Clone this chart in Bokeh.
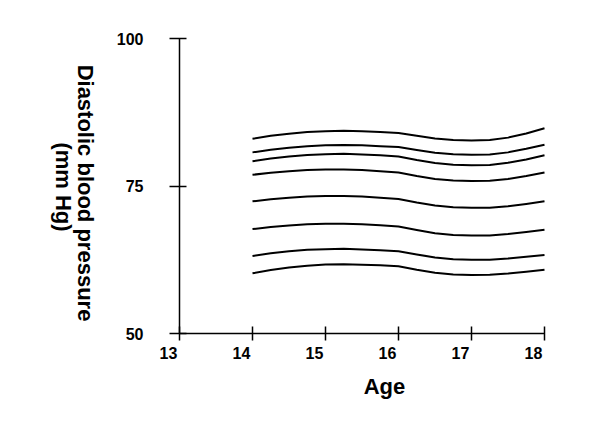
import math
from bokeh.plotting import figure
from bokeh.models import Range1d, FixedTicker, Label
from bokeh.embed import file_html
from bokeh.resources import INLINE

# Data
ages = [14, 14.25, 14.5, 14.75, 15, 15.25, 15.5, 15.75, 16,
        16.25, 16.5, 16.75, 17, 17.25, 17.5, 17.75, 18]
curve_1 = [83.0, 83.5, 83.85, 84.15, 84.3, 84.35, 84.3, 84.15, 84.0, 83.5, 83.05, 82.8, 82.7, 82.8, 83.2, 83.9, 84.8]
curve_2 = [80.7, 81.15, 81.5, 81.75, 81.9, 81.95, 81.9, 81.75, 81.6, 81.1, 80.65, 80.4, 80.3, 80.35, 80.7, 81.3, 82.0]
curve_3 = [79.2, 79.65, 80.0, 80.25, 80.4, 80.45, 80.35, 80.2, 80.0, 79.4, 78.9, 78.6, 78.5, 78.55, 78.95, 79.5, 80.2]
curve_4 = [76.9, 77.25, 77.5, 77.7, 77.8, 77.8, 77.7, 77.5, 77.3, 76.7, 76.2, 75.95, 75.85, 75.9, 76.2, 76.7, 77.3]
curve_5 = [72.4, 72.75, 73.0, 73.2, 73.3, 73.3, 73.2, 73.0, 72.8, 72.2, 71.7, 71.4, 71.3, 71.3, 71.55, 71.95, 72.4]
curve_6 = [67.7, 68.05, 68.3, 68.5, 68.6, 68.6, 68.5, 68.35, 68.15, 67.55, 67.0, 66.7, 66.6, 66.6, 66.85, 67.2, 67.6]
curve_7 = [63.15, 63.6, 63.95, 64.2, 64.3, 64.35, 64.25, 64.1, 63.95, 63.4, 62.9, 62.6, 62.5, 62.5, 62.7, 63.0, 63.3]
curve_8 = [60.2, 60.75, 61.2, 61.5, 61.7, 61.75, 61.65, 61.55, 61.4, 60.8, 60.3, 60.0, 59.9, 59.95, 60.15, 60.45, 60.8]
curves = [curve_1, curve_2, curve_3, curve_4, curve_5, curve_6, curve_7, curve_8]

x_ticks = [13, 14, 15, 16, 17, 18]
y_ticks = [50, 75, 100]
x_title = "Age"
y_title_1 = "Diastolic blood pressure"
y_title_2 = "(mm Hg)"

FONT = "Liberation Sans"

# Layout: the frame fills the canvas; axes sit at fixed data positions
W, H = 600, 424
AX_LEFT, AX_RIGHT = 179, 544      # pixel positions of x = 13 and x = 18
AX_TOP, AX_BOTTOM = 38, 333       # pixel positions of y = 100 and y = 50
x0, x1 = x_ticks[0], x_ticks[-1]
y0, y1 = y_ticks[0], y_ticks[-1]
ppx = (AX_RIGHT - AX_LEFT) / (x1 - x0)
ppy = (AX_BOTTOM - AX_TOP) / (y1 - y0)
xr = Range1d(x0 - AX_LEFT / ppx, x0 + (W - AX_LEFT) / ppx)
yr = Range1d(y1 - (H - AX_TOP) / ppy, y1 + AX_TOP / ppy)

p = figure(width=W, height=H, min_border=0, x_range=xr, y_range=yr,
           output_backend="svg", toolbar_location=None,
           background_fill_color="white", border_fill_color="white")
p.outline_line_color = None
p.xgrid.visible = False
p.ygrid.visible = False

p.multi_line(xs=[ages] * len(curves), ys=curves, line_color="black", line_width=2,
             line_join="round")

# axes
for ax in (p.xaxis[0], p.yaxis[0]):
    ax.axis_line_color = "black"
    ax.axis_line_width = 1.5
    ax.major_tick_line_color = "black"
    ax.major_tick_line_width = 1.5
    ax.minor_tick_line_color = None
    ax.major_tick_in = 7

p.xaxis.fixed_location = y0
p.xaxis.bounds = (x0, x1)
p.xaxis.ticker = FixedTicker(ticks=x_ticks)
p.xaxis.major_tick_out = 7
p.xaxis.major_label_text_font_size = "0px"
p.xaxis.major_label_text_color = None

p.yaxis.fixed_location = x0
p.yaxis.bounds = (y0, y1)
p.yaxis.ticker = FixedTicker(ticks=y_ticks)
p.yaxis.major_tick_out = 10
p.yaxis.major_label_standoff = 26
p.yaxis.major_label_text_font = FONT
p.yaxis.major_label_text_font_style = "bold"
p.yaxis.major_label_text_font_size = "16px"
p.yaxis.major_label_text_color = "black"


def add_label(**kw):
    base = dict(text_font=FONT, text_font_style="bold", text_color="black",
                text_align="center", text_baseline="middle")
    base.update(kw)
    p.add_layout(Label(**base))


# x tick labels (shifted slightly left of their ticks as in the reference)
for t in x_ticks:
    add_label(x=t, y=y0, x_offset=-11, y_offset=-19, text=str(t), text_font_size="16px")

# x title
add_label(x=x0, y=y0, x_offset=205, y_offset=-53, text=x_title, text_font_size="22px")

# y title (rotated clockwise)
add_label(x=x0, y=75, x_offset=-94, y_offset=-7, text=y_title_1, angle=-math.pi / 2,
          text_font_size="22px")
add_label(x=x0, y=75, x_offset=-116, y_offset=-1, text=y_title_2, angle=-math.pi / 2,
          text_font_size="22px")

open("out.html", "w").write(file_html(p, INLINE))
